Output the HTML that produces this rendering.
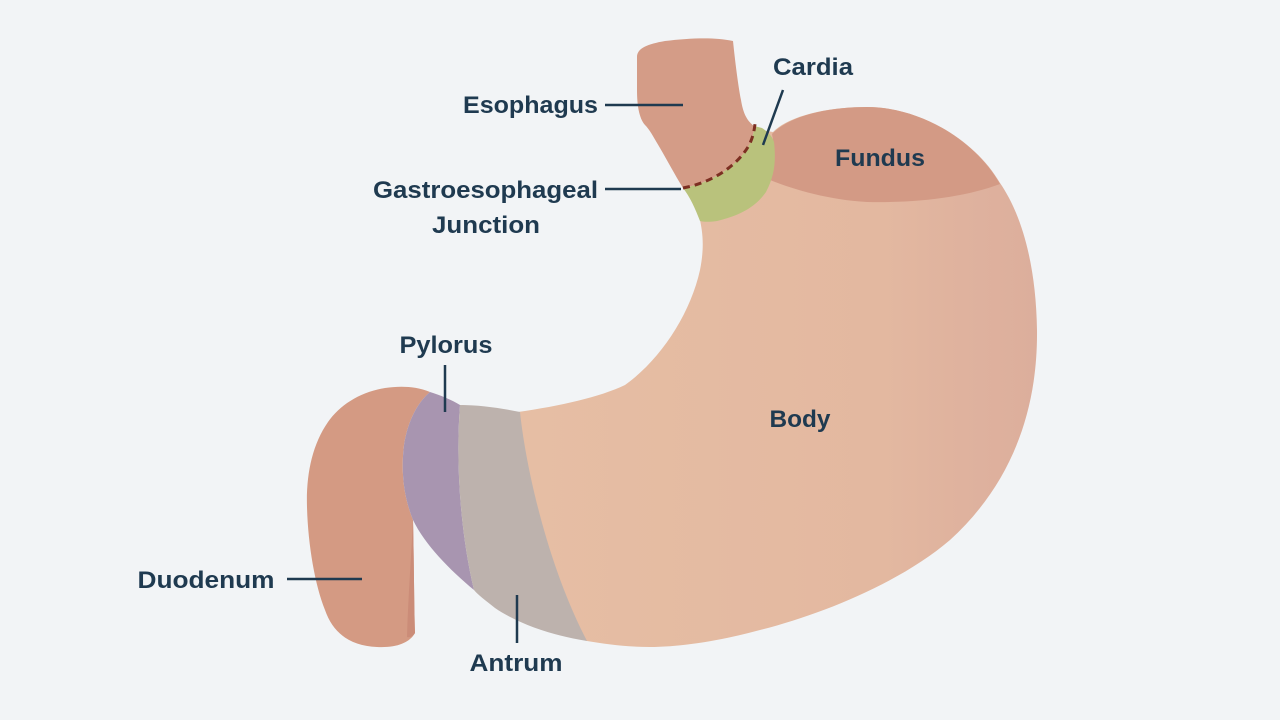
<!DOCTYPE html>
<html>
<head>
<meta charset="utf-8">
<style>
  html,body{margin:0;padding:0;background:#f2f4f6;}
  svg{display:block;}
  text{font-family:"Liberation Sans",Arial,sans-serif;font-weight:bold;font-size:24px;fill:#1f3a50;}
</style>
</head>
<body>
<svg width="1280" height="720" viewBox="0 0 1280 720" xmlns="http://www.w3.org/2000/svg">
  <defs>
    <linearGradient id="bodyg" x1="520" y1="0" x2="1040" y2="0" gradientUnits="userSpaceOnUse">
      <stop offset="0" stop-color="#e6bea4"/>
      <stop offset="0.7" stop-color="#e3b8a0"/>
      <stop offset="0.85" stop-color="#dfb29e"/>
      <stop offset="1" stop-color="#dcae9c"/>
    </linearGradient>
  </defs>
  <rect width="1280" height="720" fill="#f2f4f6"/>

  <!-- Stomach body silhouette -->
  <path d="M 518,412 C 560,406 600,397 625,385 C 660,360 690,315 700,270 C 705,245 702,230 700,220 L 700,200 L 760,130 L 773,132
           C 790,115 830,107 867,107 C 920,107 975,140 1000,183
           C 1022,215 1036,265 1037,330
           C 1038,420 1005,490 950,540
           C 900,583 820,615 760,630
           C 720,641 680,647 650,647
           C 625,647 605,644 587,641
           L 520,620 L 476,592 L 462,405 Z" fill="url(#bodyg)"/>

  <!-- Fundus -->
  <path d="M 772,134 C 790,115 830,107 867,107 C 920,107 975,140 1000,184
           C 965,197 920,203 867,202 C 830,200 795,190 770,180 C 774,165 775,148 772,134 Z" fill="#d39a85"/>

  <!-- Green band (cardia) -->
  <path d="M 683,188 C 710,183 735,168 748,147 C 752,140 754,133 754,126 L 762,128 C 768,132 772,136 774,142
           C 776,160 775,175 766,192 C 755,208 738,216 717,221 C 710,222 704,222 700,221 C 695,208 690,197 683,188 Z" fill="#b9c27c"/>

  <!-- Esophagus -->
  <path d="M 637,57 C 637,48 648,44 665,41 C 690,38 715,37 733,41 C 735,60 738,85 741,100 C 743,112 746,120 754,126
           C 754,133 752,140 748,147 C 735,168 710,183 683,188
           C 675,175 667,160 660,148 C 654,138 650,130 645,125 C 639,118 637,105 637,90 Z" fill="#d49c87"/>
  <!-- dashed GE junction -->
  <path d="M 683,188 C 710,183 735,168 748,147 C 752,140 754,133 755,124" fill="none" stroke="#7c2f22" stroke-width="3" stroke-dasharray="7,5"/>

  <!-- Duodenum -->
  <path d="M 430,392 C 415,386 400,386 385,388 C 360,392 340,405 328,422 C 312,445 306,475 307,507
           C 308,545 315,585 325,610 C 333,633 350,646 377,647 C 398,648 410,642 415,633
           C 414,600 414,560 413,520 C 403,495 401,470 404,445 C 408,420 418,402 430,392 Z" fill="#d49a83"/>
  <path d="M 413,520 C 411,560 408,600 407,637 C 410,638 413,636 415,633 C 414,600 414,560 413,520 Z" fill="#cb8c78"/>

  <!-- Pylorus -->
  <path d="M 430,392 C 440,395 452,400 460,405 C 455,470 462,540 474,590 C 450,570 425,545 413,520
           C 403,495 401,470 404,445 C 408,420 418,402 430,392 Z" fill="#a895b0"/>

  <!-- Antrum -->
  <path d="M 460,405 C 480,405 500,408 520,412 C 525,460 545,560 587,641 C 555,636 520,625 495,608
           C 485,600 478,595 474,590 C 462,540 455,470 460,405 Z" fill="#bdb2ad"/>

  <!-- Connector lines -->
  <g stroke="#1f3a50" stroke-width="2.5" fill="none">
    <line x1="605" y1="105" x2="683" y2="105"/>
    <line x1="605" y1="189" x2="681" y2="189"/>
    <line x1="783" y1="90" x2="763" y2="145"/>
    <line x1="445" y1="365" x2="445" y2="412"/>
    <line x1="287" y1="579" x2="362" y2="579"/>
    <line x1="517" y1="595" x2="517" y2="643"/>
  </g>

  <!-- Labels -->
  <text x="598" y="113" text-anchor="end" textLength="135" lengthAdjust="spacingAndGlyphs">Esophagus</text>
  <text x="598" y="198" text-anchor="end" textLength="225" lengthAdjust="spacingAndGlyphs">Gastroesophageal</text>
  <text x="486" y="233" text-anchor="middle" textLength="108" lengthAdjust="spacingAndGlyphs">Junction</text>
  <text x="813" y="75" text-anchor="middle" textLength="80" lengthAdjust="spacingAndGlyphs">Cardia</text>
  <text x="880" y="166" text-anchor="middle" textLength="90" lengthAdjust="spacingAndGlyphs">Fundus</text>
  <text x="446" y="353" text-anchor="middle" textLength="93" lengthAdjust="spacingAndGlyphs">Pylorus</text>
  <text x="800" y="427" text-anchor="middle" textLength="61" lengthAdjust="spacingAndGlyphs">Body</text>
  <text x="206" y="588" text-anchor="middle" textLength="137" lengthAdjust="spacingAndGlyphs">Duodenum</text>
  <text x="516" y="671" text-anchor="middle" textLength="93" lengthAdjust="spacingAndGlyphs">Antrum</text>
</svg>
</body>
</html>
